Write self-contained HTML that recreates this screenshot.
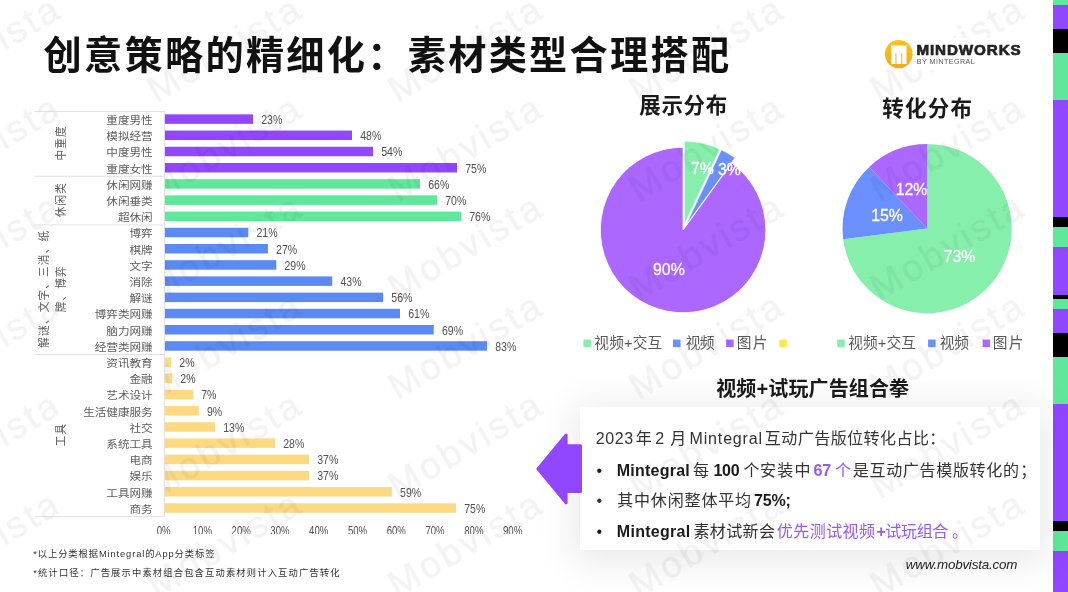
<!DOCTYPE html>
<html lang="zh-CN"><head><meta charset="utf-8"><title>创意策略的精细化：素材类型合理搭配</title>
<style>

html,body{margin:0;padding:0;}
body{width:1068px;height:592px;overflow:hidden;background:#fff;position:relative;font-family:"Liberation Sans","Noto Sans CJK SC",sans-serif;color:#1a1a1a;}
.abs{position:absolute;white-space:nowrap;}
svg{position:absolute;left:0;top:0;overflow:visible;}
svg text{white-space:pre;}
.title{left:43.6px;top:27.8px;font-size:38.2px;line-height:56px;font-weight:700;letter-spacing:2.27px;color:#111;font-family:"Liberation Sans","Noto Sans CJK SC",sans-serif;}
.stripe{position:absolute;left:1053px;top:0;width:15px;height:592px;}
.stripe i{position:absolute;left:0;width:15px;display:block;}
.card{position:absolute;left:580px;top:407px;width:459.6px;height:142.5px;background:#fff;box-shadow:0 6px 36px 6px rgba(0,0,0,0.09);}
.sq{position:absolute;width:7.5px;height:7.5px;}
.wm{position:absolute;left:0;top:0;width:1068px;height:592px;pointer-events:none;overflow:hidden;opacity:0.042;filter:blur(0.6px);}
.wm span{position:absolute;line-height:40px;width:240px;height:40px;margin-left:-120px;margin-top:-20px;text-align:center;color:#000;-webkit-text-stroke:0.7px #000;transform:rotate(-30.5deg);font-family:"Liberation Sans",sans-serif;font-weight:400;font-size:37px;letter-spacing:3.1px;white-space:nowrap;}

</style></head><body>
<div class="stripe">
<i style="top:0px;height:5px;background:#5fe89b"></i>
<i style="top:5px;height:24px;background:#9146ff"></i>
<i style="top:29px;height:24px;background:#000"></i>
<i style="top:53px;height:47px;background:#5fe89b"></i>
<i style="top:100px;height:117px;background:#9146ff"></i>
<i style="top:217px;height:10px;background:#000"></i>
<i style="top:227px;height:20px;background:#5fe89b"></i>
<i style="top:247px;height:48px;background:#9146ff"></i>
<i style="top:295px;height:4px;background:#000"></i>
<i style="top:299px;height:10px;background:#5fe89b"></i>
<i style="top:309px;height:24px;background:#9146ff"></i>
<i style="top:333px;height:24px;background:#000"></i>
<i style="top:357px;height:47px;background:#5fe89b"></i>
<i style="top:404px;height:117px;background:#9146ff"></i>
<i style="top:521px;height:10px;background:#000"></i>
<i style="top:531px;height:20px;background:#5fe89b"></i>
<i style="top:551px;height:41px;background:#9146ff"></i>
</div>
<div class="abs title">创意策略的精细化：素材类型合理搭配</div>
<svg width="560" height="545" viewBox="0 0 560 545">
<rect x="164.7" y="114.35" width="88.3" height="9.5" fill="#9146ff"/>
<rect x="164.7" y="130.56" width="187.3" height="9.5" fill="#9146ff"/>
<rect x="164.7" y="146.76" width="208.3" height="9.5" fill="#9146ff"/>
<rect x="164.7" y="162.96" width="292.3" height="9.5" fill="#9146ff"/>
<rect x="164.7" y="179.17" width="255.3" height="9.5" fill="#5fe89b"/>
<rect x="164.7" y="195.37" width="272.3" height="9.5" fill="#5fe89b"/>
<rect x="164.7" y="211.58" width="296.3" height="9.5" fill="#5fe89b"/>
<rect x="164.7" y="227.78" width="83.6" height="9.5" fill="#5b8af5"/>
<rect x="164.7" y="243.98" width="103.2" height="9.5" fill="#5b8af5"/>
<rect x="164.7" y="260.19" width="111.6" height="9.5" fill="#5b8af5"/>
<rect x="164.7" y="276.39" width="167.5" height="9.5" fill="#5b8af5"/>
<rect x="164.7" y="292.60" width="218.4" height="9.5" fill="#5b8af5"/>
<rect x="164.7" y="308.80" width="235.3" height="9.5" fill="#5b8af5"/>
<rect x="164.7" y="325.00" width="269" height="9.5" fill="#5b8af5"/>
<rect x="164.7" y="341.21" width="322.3" height="9.5" fill="#5b8af5"/>
<rect x="164.7" y="357.41" width="6.4" height="9.5" fill="#fdda82"/>
<rect x="164.7" y="373.62" width="7.4" height="9.5" fill="#fdda82"/>
<rect x="164.7" y="389.82" width="28.3" height="9.5" fill="#fdda82"/>
<rect x="164.7" y="406.02" width="34.1" height="9.5" fill="#fdda82"/>
<rect x="164.7" y="422.23" width="50.3" height="9.5" fill="#fdda82"/>
<rect x="164.7" y="438.43" width="110.3" height="9.5" fill="#fdda82"/>
<rect x="164.7" y="454.64" width="144.3" height="9.5" fill="#fdda82"/>
<rect x="164.7" y="470.84" width="144.3" height="9.5" fill="#fdda82"/>
<rect x="164.7" y="487.04" width="227.2" height="9.5" fill="#fdda82"/>
<rect x="164.7" y="503.25" width="291.3" height="9.5" fill="#fdda82"/>
<g font-family="Liberation Sans, sans-serif" font-size="12" fill="#505050">
<text transform="translate(261.2 124.00) scale(0.88 1)">23%</text>
<text transform="translate(360.2 140.21) scale(0.88 1)">48%</text>
<text transform="translate(381.2 156.41) scale(0.88 1)">54%</text>
<text transform="translate(465.2 172.61) scale(0.88 1)">75%</text>
<text transform="translate(428.2 188.82) scale(0.88 1)">66%</text>
<text transform="translate(445.2 205.02) scale(0.88 1)">70%</text>
<text transform="translate(469.2 221.23) scale(0.88 1)">76%</text>
<text transform="translate(256.5 237.43) scale(0.88 1)">21%</text>
<text transform="translate(276.1 253.63) scale(0.88 1)">27%</text>
<text transform="translate(284.5 269.84) scale(0.88 1)">29%</text>
<text transform="translate(340.4 286.04) scale(0.88 1)">43%</text>
<text transform="translate(391.3 302.25) scale(0.88 1)">56%</text>
<text transform="translate(408.2 318.45) scale(0.88 1)">61%</text>
<text transform="translate(441.9 334.65) scale(0.88 1)">69%</text>
<text transform="translate(495.2 350.86) scale(0.88 1)">83%</text>
<text transform="translate(179.3 367.06) scale(0.88 1)">2%</text>
<text transform="translate(180.3 383.27) scale(0.88 1)">2%</text>
<text transform="translate(201.2 399.47) scale(0.88 1)">7%</text>
<text transform="translate(207 415.67) scale(0.88 1)">9%</text>
<text transform="translate(223.2 431.88) scale(0.88 1)">13%</text>
<text transform="translate(283.2 448.08) scale(0.88 1)">28%</text>
<text transform="translate(317.2 464.29) scale(0.88 1)">37%</text>
<text transform="translate(317.2 480.49) scale(0.88 1)">37%</text>
<text transform="translate(400.1 496.69) scale(0.88 1)">59%</text>
<text transform="translate(464.2 512.90) scale(0.88 1)">75%</text>
</g>
<clipPath id="axc"><rect x="0" y="520" width="560" height="14"/></clipPath>
<g clip-path="url(#axc)" font-family="Liberation Sans, sans-serif" font-size="12" fill="#505050" text-anchor="middle">
<text transform="translate(163.6 535.2) scale(0.8 1)">0%</text>
<text transform="translate(202.38 535.2) scale(0.8 1)">10%</text>
<text transform="translate(241.16 535.2) scale(0.8 1)">20%</text>
<text transform="translate(279.94 535.2) scale(0.8 1)">30%</text>
<text transform="translate(318.72 535.2) scale(0.8 1)">40%</text>
<text transform="translate(357.5 535.2) scale(0.8 1)">50%</text>
<text transform="translate(396.28 535.2) scale(0.8 1)">60%</text>
<text transform="translate(435.06 535.2) scale(0.8 1)">70%</text>
<text transform="translate(473.84 535.2) scale(0.8 1)">80%</text>
<text transform="translate(512.62 535.2) scale(0.8 1)">90%</text>
</g>
</svg>
<svg width="1068" height="592" viewBox="0 0 1068 592">
<path d="M683.10 230.00 L731.77 163.01 A82.8 82.8 0 1 1 683.10 147.20 Z" fill="#ab67ff" stroke="#fff" stroke-width="0.9" stroke-linejoin="round"/>
<path d="M684.41 224.14 L684.41 141.34 A82.8 82.8 0 0 1 719.66 149.22 Z" fill="#86efac" stroke="#fff" stroke-width="0.4" stroke-linejoin="round"/>
<path d="M686.15 224.84 L721.41 149.92 A82.8 82.8 0 0 1 734.82 157.85 Z" fill="#6a90ff" stroke="#fff" stroke-width="0.4" stroke-linejoin="round"/>
<path d="M927.10 228.60 L927.10 144.00 A84.6 84.6 0 1 1 843.17 239.20 Z" fill="#86efac"/>
<path d="M927.10 228.60 L843.17 239.20 A84.6 84.6 0 0 1 869.19 166.93 Z" fill="#6a90ff"/>
<path d="M927.10 228.60 L869.19 166.93 A84.6 84.6 0 0 1 927.10 144.00 Z" fill="#ab67ff"/>
<g font-family="Liberation Sans, sans-serif" font-size="15.8" fill="#fff" stroke="#fff" stroke-width="0.3" text-anchor="middle">
<text x="702.5" y="174.3">7%</text>
<text x="729.3" y="175">3%</text>
<text x="668.9" y="275.2">90%</text>
<text x="911.5" y="195">12%</text>
<text x="887" y="221">15%</text>
<text x="959.5" y="262">73%</text>
</g>
<text x="639.36" y="113.06" font-size="21.5" fill="#1a1a1a" font-family="'Liberation Sans', 'Noto Sans CJK SC', sans-serif" font-weight="700" letter-spacing="0.615">展示分布</text>
<text x="882.36" y="116.06" font-size="21.5" fill="#1a1a1a" font-family="'Liberation Sans', 'Noto Sans CJK SC', sans-serif" font-weight="700" letter-spacing="1.181">转化分布</text>
<text x="716.19" y="396.10" font-size="20" fill="#1a1a1a" font-family="'Liberation Sans', 'Noto Sans CJK SC', sans-serif" font-weight="700" letter-spacing="0.137">视频+试玩广告组合拳</text>
<rect x="583.4" y="339.55" width="7.5" height="7.5" fill="#86efac"/>
<text x="594.34" y="347.93" font-size="14.7" fill="#595959" font-family="'Liberation Sans', 'Noto Sans CJK SC', sans-serif" letter-spacing="0.116">视频+交互</text>
<rect x="673" y="339.55" width="7.5" height="7.5" fill="#6a90ff"/>
<text x="685.84" y="347.81" font-size="14.7" fill="#595959" font-family="'Liberation Sans', 'Noto Sans CJK SC', sans-serif" letter-spacing="-0.881">视频</text>
<rect x="726.1" y="339.55" width="7.5" height="7.5" fill="#ab67ff"/>
<text x="736.85" y="347.81" font-size="14.7" fill="#595959" font-family="'Liberation Sans', 'Noto Sans CJK SC', sans-serif" letter-spacing="1.127">图片</text>
<rect x="779.3" y="339.55" width="7.5" height="7.5" fill="#fde84e"/>
<rect x="837.2" y="339.55" width="7.5" height="7.5" fill="#86efac"/>
<text x="848.14" y="347.93" font-size="14.7" fill="#595959" font-family="'Liberation Sans', 'Noto Sans CJK SC', sans-serif" letter-spacing="0.141">视频+交互</text>
<rect x="928.1" y="339.55" width="7.5" height="7.5" fill="#6a90ff"/>
<text x="939.74" y="347.81" font-size="14.7" fill="#595959" font-family="'Liberation Sans', 'Noto Sans CJK SC', sans-serif" letter-spacing="-0.081">视频</text>
<rect x="982.6" y="339.55" width="7.5" height="7.5" fill="#ab67ff"/>
<text x="992.85" y="347.81" font-size="14.7" fill="#595959" font-family="'Liberation Sans', 'Noto Sans CJK SC', sans-serif" letter-spacing="1.127">图片</text>
</svg>
<div class="card"></div>
<svg width="1068" height="592" viewBox="0 0 1068 592">
<path d="M537.9 468.9 L566.1 435.0 V445.8 H580.5 V491.5 H566.1 V502.8 Z" fill="#9146ff" stroke="#9146ff" stroke-width="3" stroke-linejoin="round"/>
<text x="595.85" y="444.00" font-size="16" fill="#333" font-family="'Liberation Sans', sans-serif" letter-spacing="0.602">2023</text>
<text x="635.65" y="444.00" font-size="16" fill="#333" font-family="'Liberation Sans', 'Noto Sans CJK SC', sans-serif">年</text>
<text x="655.15" y="444.00" font-size="16" fill="#333" font-family="'Liberation Sans', sans-serif">2</text>
<text x="670.35" y="444.00" font-size="16" fill="#333" font-family="'Liberation Sans', 'Noto Sans CJK SC', sans-serif">月</text>
<text x="689.55" y="444.00" font-size="16" fill="#333" font-family="'Liberation Sans', sans-serif" letter-spacing="0.838">Mintegral</text>
<text x="764.85" y="444.00" font-size="16" fill="#333" font-family="'Liberation Sans', 'Noto Sans CJK SC', sans-serif" letter-spacing="0.450">互动广告版位转化占比：</text>
<text x="596.50" y="476.20" font-size="16" fill="#1a1a1a" font-family="'Liberation Sans', sans-serif">•</text>
<text x="616.80" y="476.20" font-size="16" fill="#1a1a1a" font-family="'Liberation Sans', sans-serif" font-weight="700" letter-spacing="0.229">Mintegral</text>
<text x="692.90" y="476.20" font-size="16" fill="#333" font-family="'Liberation Sans', 'Noto Sans CJK SC', sans-serif">每</text>
<text x="713.40" y="476.20" font-size="16" fill="#1a1a1a" font-family="'Liberation Sans', sans-serif" font-weight="700" letter-spacing="-0.223">100</text>
<text x="743.50" y="476.20" font-size="16" fill="#333" font-family="'Liberation Sans', 'Noto Sans CJK SC', sans-serif">个</text>
<text x="760.00" y="476.20" font-size="16" fill="#333" font-family="'Liberation Sans', 'Noto Sans CJK SC', sans-serif" letter-spacing="1.250">安装中</text>
<text x="813.50" y="476.20" font-size="16" fill="#9858f5" font-family="'Liberation Sans', sans-serif" font-weight="700" letter-spacing="-0.148">67</text>
<text x="835.10" y="476.20" font-size="16" fill="#9858f5" font-family="'Liberation Sans', 'Noto Sans CJK SC', sans-serif">个</text>
<text x="852.80" y="476.20" font-size="16" fill="#333" font-family="'Liberation Sans', 'Noto Sans CJK SC', sans-serif" letter-spacing="0.689">是互动广告模版转化的</text>
<text x="1020.35" y="476.20" font-size="16" fill="#333" font-family="'Liberation Sans', 'Noto Sans CJK SC', sans-serif">；</text>
<text x="596.50" y="506.40" font-size="16" fill="#333" font-family="'Liberation Sans', sans-serif">•</text>
<text x="617.20" y="506.40" font-size="16" fill="#333" font-family="'Liberation Sans', 'Noto Sans CJK SC', sans-serif" letter-spacing="0.843">其中休闲整体平均</text>
<text x="754.10" y="506.40" font-size="16" fill="#1a1a1a" font-family="'Liberation Sans', sans-serif" font-weight="700" letter-spacing="-0.174">75%;</text>
<text x="596.50" y="537.10" font-size="16" fill="#1a1a1a" font-family="'Liberation Sans', sans-serif">•</text>
<text x="616.80" y="537.10" font-size="16" fill="#1a1a1a" font-family="'Liberation Sans', sans-serif" font-weight="700" letter-spacing="0.291">Mintegral</text>
<text x="693.40" y="537.10" font-size="16" fill="#333" font-family="'Liberation Sans', 'Noto Sans CJK SC', sans-serif" letter-spacing="0.400">素材试新会</text>
<text x="776.80" y="537.10" font-size="16" fill="#9858f5" font-family="'Liberation Sans', 'Noto Sans CJK SC', sans-serif" letter-spacing="0.450">优先测试视频</text>
<text x="876.50" y="537.10" font-size="16" fill="#9858f5" font-family="'Liberation Sans', sans-serif" font-weight="700">+</text>
<text x="885.25" y="537.10" font-size="16" fill="#9858f5" font-family="'Liberation Sans', 'Noto Sans CJK SC', sans-serif" letter-spacing="-0.300">试玩组合</text>
<text x="952.00" y="537.10" font-size="16" fill="#9858f5" font-family="'Liberation Sans', 'Noto Sans CJK SC', sans-serif">。</text>
<text x="905.77" y="568.72" font-size="13.4" fill="#222" font-family="'Liberation Sans', sans-serif" font-style="italic" letter-spacing="-0.204">www.mobvista.com</text>
<text x="33.25" y="556.88" font-size="9.3" fill="#333" font-family="'Liberation Sans', 'Noto Sans CJK SC', sans-serif" letter-spacing="0.893">*以上分类根据Mintegral的App分类标签</text>
<text x="33.25" y="575.82" font-size="9.3" fill="#333" font-family="'Liberation Sans', 'Noto Sans CJK SC', sans-serif" letter-spacing="1.141">*统计口径：广告展示中素材组合包含互动素材则计入互动广告转化</text>
</svg>
<div class="wm">
<span style="left:-16px;top:49.4px">Mobvista</span>
<span style="left:-16px;top:148.4px">Mobvista</span>
<span style="left:-16px;top:247.4px">Mobvista</span>
<span style="left:-16px;top:346.4px">Mobvista</span>
<span style="left:-16px;top:445.4px">Mobvista</span>
<span style="left:-16px;top:544.4px">Mobvista</span>
<span style="left:225px;top:49.4px">Mobvista</span>
<span style="left:225px;top:148.4px">Mobvista</span>
<span style="left:225px;top:247.4px">Mobvista</span>
<span style="left:225px;top:346.4px">Mobvista</span>
<span style="left:225px;top:445.4px">Mobvista</span>
<span style="left:225px;top:544.4px">Mobvista</span>
<span style="left:466px;top:49.4px">Mobvista</span>
<span style="left:466px;top:148.4px">Mobvista</span>
<span style="left:466px;top:247.4px">Mobvista</span>
<span style="left:466px;top:346.4px">Mobvista</span>
<span style="left:466px;top:445.4px">Mobvista</span>
<span style="left:466px;top:544.4px">Mobvista</span>
<span style="left:707px;top:49.4px">Mobvista</span>
<span style="left:707px;top:148.4px">Mobvista</span>
<span style="left:707px;top:247.4px">Mobvista</span>
<span style="left:707px;top:346.4px">Mobvista</span>
<span style="left:707px;top:445.4px">Mobvista</span>
<span style="left:707px;top:544.4px">Mobvista</span>
<span style="left:948px;top:49.4px">Mobvista</span>
<span style="left:948px;top:148.4px">Mobvista</span>
<span style="left:948px;top:247.4px">Mobvista</span>
<span style="left:948px;top:346.4px">Mobvista</span>
<span style="left:948px;top:445.4px">Mobvista</span>
<span style="left:948px;top:544.4px">Mobvista</span>
<span style="left:1189px;top:49.4px">Mobvista</span>
<span style="left:1189px;top:148.4px">Mobvista</span>
<span style="left:1189px;top:247.4px">Mobvista</span>
<span style="left:1189px;top:346.4px">Mobvista</span>
<span style="left:1189px;top:445.4px">Mobvista</span>
<span style="left:1189px;top:544.4px">Mobvista</span>
</div>
<svg width="560" height="545" viewBox="0 0 560 545">
<rect x="58" y="111" width="106.4" height="405.1" fill="#fff"/>
<g font-family="Liberation Sans, Noto Sans CJK SC, sans-serif">
<line x1="34.6" y1="111.45" x2="164.4" y2="111.45" stroke="#d9d9d9" stroke-width="0.8"/>
<line x1="34.6" y1="176.27" x2="164.4" y2="176.27" stroke="#d9d9d9" stroke-width="0.8"/>
<line x1="34.6" y1="224.88" x2="164.4" y2="224.88" stroke="#d9d9d9" stroke-width="0.8"/>
<line x1="34.6" y1="354.51" x2="164.4" y2="354.51" stroke="#d9d9d9" stroke-width="0.8"/>
<line x1="34.6" y1="516.55" x2="164.4" y2="516.55" stroke="#d9d9d9" stroke-width="0.8"/>
<line x1="164.4" y1="111" x2="164.4" y2="516.1" stroke="#d9d9d9" stroke-width="0.8"/>
<text transform="translate(152.7 123.95) scale(1.1 1)" text-anchor="end" font-size="10.55" fill="#5c5c5c">重度男性</text>
<text transform="translate(152.7 140.16) scale(1.1 1)" text-anchor="end" font-size="10.55" fill="#5c5c5c">模拟经营</text>
<text transform="translate(152.7 156.36) scale(1.1 1)" text-anchor="end" font-size="10.55" fill="#5c5c5c">中度男性</text>
<text transform="translate(152.7 172.56) scale(1.1 1)" text-anchor="end" font-size="10.55" fill="#5c5c5c">重度女性</text>
<text transform="translate(152.7 188.77) scale(1.1 1)" text-anchor="end" font-size="10.55" fill="#5c5c5c">休闲网赚</text>
<text transform="translate(152.7 204.97) scale(1.1 1)" text-anchor="end" font-size="10.55" fill="#5c5c5c">休闲垂类</text>
<text transform="translate(152.7 221.18) scale(1.1 1)" text-anchor="end" font-size="10.55" fill="#5c5c5c">超休闲</text>
<text transform="translate(152.7 237.38) scale(1.1 1)" text-anchor="end" font-size="10.55" fill="#5c5c5c">博弈</text>
<text transform="translate(152.7 253.58) scale(1.1 1)" text-anchor="end" font-size="10.55" fill="#5c5c5c">棋牌</text>
<text transform="translate(152.7 269.79) scale(1.1 1)" text-anchor="end" font-size="10.55" fill="#5c5c5c">文字</text>
<text transform="translate(152.7 285.99) scale(1.1 1)" text-anchor="end" font-size="10.55" fill="#5c5c5c">消除</text>
<text transform="translate(152.7 302.20) scale(1.1 1)" text-anchor="end" font-size="10.55" fill="#5c5c5c">解谜</text>
<text transform="translate(152.7 318.40) scale(1.1 1)" text-anchor="end" font-size="10.55" fill="#5c5c5c">博弈类网赚</text>
<text transform="translate(152.7 334.60) scale(1.1 1)" text-anchor="end" font-size="10.55" fill="#5c5c5c">脑力网赚</text>
<text transform="translate(152.7 350.81) scale(1.1 1)" text-anchor="end" font-size="10.55" fill="#5c5c5c">经营类网赚</text>
<text transform="translate(152.7 367.01) scale(1.1 1)" text-anchor="end" font-size="10.55" fill="#5c5c5c">资讯教育</text>
<text transform="translate(152.7 383.22) scale(1.1 1)" text-anchor="end" font-size="10.55" fill="#5c5c5c">金融</text>
<text transform="translate(152.7 399.42) scale(1.1 1)" text-anchor="end" font-size="10.55" fill="#5c5c5c">艺术设计</text>
<text transform="translate(152.7 415.62) scale(1.1 1)" text-anchor="end" font-size="10.55" fill="#5c5c5c">生活健康服务</text>
<text transform="translate(152.7 431.83) scale(1.1 1)" text-anchor="end" font-size="10.55" fill="#5c5c5c">社交</text>
<text transform="translate(152.7 448.03) scale(1.1 1)" text-anchor="end" font-size="10.55" fill="#5c5c5c">系统工具</text>
<text transform="translate(152.7 464.24) scale(1.1 1)" text-anchor="end" font-size="10.55" fill="#5c5c5c">电商</text>
<text transform="translate(152.7 480.44) scale(1.1 1)" text-anchor="end" font-size="10.55" fill="#5c5c5c">娱乐</text>
<text transform="translate(152.7 496.64) scale(1.1 1)" text-anchor="end" font-size="10.55" fill="#5c5c5c">工具网赚</text>
<text transform="translate(152.7 512.85) scale(1.1 1)" text-anchor="end" font-size="10.55" fill="#5c5c5c">商务</text>
<text transform="translate(65.1 142.91) scale(1.1 1) rotate(-90)" text-anchor="middle" font-size="10.55" letter-spacing="1.25" fill="#5c5c5c">中重度</text>
<text transform="translate(65.1 199.62) scale(1.1 1) rotate(-90)" text-anchor="middle" font-size="10.55" letter-spacing="1.25" fill="#5c5c5c">休闲类</text>
<text transform="translate(48.4 288.74) scale(1.1 1) rotate(-90)" text-anchor="middle" font-size="10.55" letter-spacing="1.25" fill="#5c5c5c">解谜、文字、三消、纸</text>
<text transform="translate(64.9 288.74) scale(1.1 1) rotate(-90)" text-anchor="middle" font-size="10.55" letter-spacing="1.25" fill="#5c5c5c">牌、博弈</text>
<text transform="translate(65.1 434.58) scale(1.1 1) rotate(-90)" text-anchor="middle" font-size="10.55" letter-spacing="1.25" fill="#5c5c5c">工具</text>
</g>
</svg>
<svg width="1068" height="592" viewBox="0 0 1068 592">
<defs><linearGradient id="lg" x1="0" y1="0" x2="0" y2="1"><stop offset="0" stop-color="#fcc419"/><stop offset="1" stop-color="#f4aa1c"/></linearGradient></defs>
<rect x="881" y="38" width="144" height="32" fill="#fff"/>
<ellipse cx="898.8" cy="54.1" rx="13.8" ry="14.2" fill="url(#lg)"/>
<path d="M890.8 45.4 H906.9 L906.5 47 V63.9 H891.2 V47 Z" fill="#fff"/>
<rect x="895.4" y="53.2" width="1.1" height="10.7" fill="#f2b84a"/>
<rect x="901.2" y="53.2" width="1.1" height="10.7" fill="#f2b84a"/>
<text x="916.45" y="54.98" font-size="15.2" fill="#222" font-family="'Liberation Sans', sans-serif" font-weight="700" letter-spacing="0.906" stroke="#222" stroke-width="0.7">MINDWORKS</text>
<text x="916.85" y="64.47" font-size="7.1" fill="#555" font-family="'Liberation Sans', sans-serif" letter-spacing="0.471">BY MINTEGRAL</text>
</svg>
</body></html>
